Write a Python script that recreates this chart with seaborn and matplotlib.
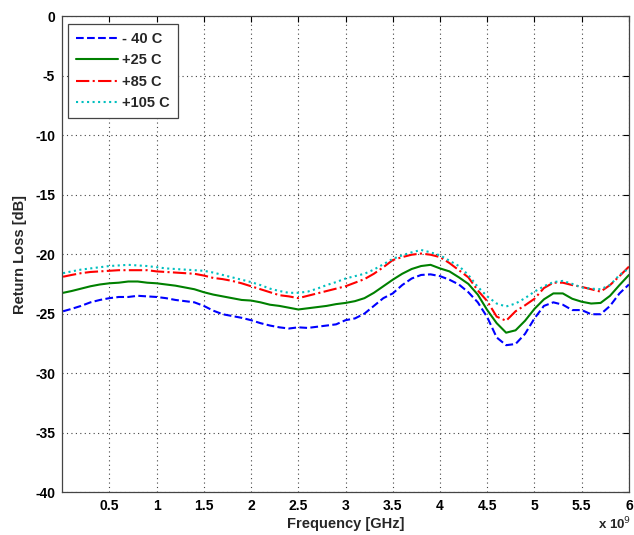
import numpy as np
import pandas as pd
import seaborn as sns
import matplotlib
matplotlib.use("Agg")
import matplotlib.pyplot as plt

# frequency samples in GHz
freq = np.round(np.arange(0.0, 6.01, 0.1), 1)
freq[0] = 0.01

minus40 = [-24.8, -24.6, -24.35, -24.05, -23.85, -23.7, -23.6, -23.6, -23.5, -23.55,
           -23.6, -23.7, -23.85, -23.95, -24.05, -24.35, -24.75, -25.05, -25.2, -25.35,
           -25.55, -25.8, -26.0, -26.15, -26.25, -26.15, -26.2, -26.1, -26.0, -25.9,
           -25.55, -25.4, -25.0, -24.35, -23.7, -23.3, -22.6, -22.05, -21.75, -21.7,
           -21.85, -22.15, -22.55, -23.2, -24.05, -25.3, -27.0, -27.65, -27.55, -26.7,
           -25.4, -24.35, -24.05, -24.25, -24.7, -24.7, -25.05, -25.05, -24.35, -23.3,
           -22.55]
plus25 = [-23.25, -23.1, -22.9, -22.7, -22.55, -22.45, -22.4, -22.3, -22.3, -22.4,
          -22.45, -22.55, -22.65, -22.8, -22.95, -23.2, -23.4, -23.55, -23.7, -23.85,
          -23.9, -24.05, -24.25, -24.35, -24.5, -24.65, -24.55, -24.45, -24.35, -24.2,
          -24.1, -23.95, -23.7, -23.25, -22.7, -22.15, -21.65, -21.25, -21.0, -20.9,
          -21.2, -21.45, -21.95, -22.5, -23.4, -24.7, -25.8, -26.6, -26.4, -25.6,
          -24.6, -23.8, -23.3, -23.3, -23.75, -24.0, -24.15, -24.1, -23.5, -22.6,
          -21.75]
plus85 = [-21.9, -21.75, -21.6, -21.5, -21.45, -21.4, -21.35, -21.35, -21.35, -21.35,
          -21.45, -21.5, -21.55, -21.6, -21.65, -21.8, -22.0, -22.1, -22.25, -22.45,
          -22.7, -22.95, -23.2, -23.45, -23.55, -23.7, -23.5, -23.3, -23.1, -22.9,
          -22.7, -22.4, -22.1, -21.65, -21.1, -20.5, -20.25, -20.05, -19.95, -20.05,
          -20.25, -20.75, -21.35, -21.95, -23.05, -23.95, -25.25, -25.6, -24.8, -24.3,
          -23.75, -22.85, -22.4, -22.4, -22.6, -22.75, -22.95, -23.15, -22.6, -21.85,
          -21.05]
plus105 = [-21.6, -21.45, -21.3, -21.2, -21.1, -21.0, -20.95, -20.9, -20.95, -21.0,
           -21.1, -21.2, -21.25, -21.3, -21.35, -21.4, -21.55, -21.75, -21.95, -22.15,
           -22.35, -22.6, -22.9, -23.1, -23.25, -23.25, -23.15, -22.9, -22.6, -22.35,
           -22.05, -21.85, -21.65, -21.3, -20.85, -20.4, -20.1, -19.85, -19.65, -19.85,
           -20.1, -20.55, -21.0, -21.75, -22.75, -23.55, -24.15, -24.4, -24.15, -23.7,
           -23.15, -22.7, -22.35, -22.25, -22.5, -22.8, -22.9, -22.95, -22.6, -21.75,
           -21.2]

labels = ["- 40 C", "+25 C", "+85 C", "+105 C"]
colors = ["#0000ff", "#008000", "#ff0000", "#00bfbf"]
styles = ["--", "-", "-.", ":"]

x_ticks = [0.5, 1, 1.5, 2, 2.5, 3, 3.5, 4, 4.5, 5, 5.5, 6]
x_tick_labels = ["0.5", "1", "1.5", "2", "2.5", "3", "3.5", "4", "4.5", "5", "5.5", "6"]
y_ticks = [0, -5, -10, -15, -20, -25, -30, -35, -40]

sns.set_style("white")
plt.rcParams["font.family"] = ["Liberation Sans", "DejaVu Sans"]
plt.rcParams["axes.unicode_minus"] = False

fig = plt.figure(figsize=(6.34, 5.35), dpi=100)
ax = fig.add_axes([0.098, 0.080, 0.894, 0.890])

for vals, lbl, c, ls in zip([minus40, plus25, plus85, plus105], labels, colors, styles):
    sns.lineplot(x=freq, y=vals, ax=ax, color=c, linestyle=ls, lw=1.5, label=lbl)

ax.set_xlim(0.0, 6.0)
ax.set_ylim(-40, 0)
ax.set_xticks(x_ticks)
ax.set_xticklabels(x_tick_labels)
ax.set_yticks(y_ticks)
ax.set_yticklabels([str(t) for t in y_ticks])
ax.tick_params(direction="in", top=True, right=True, length=4, width=0.8,
               labelsize=10, colors="black", pad=5)
for lab in ax.get_xticklabels() + ax.get_yticklabels():
    lab.set_fontweight("bold")
for sp in ax.spines.values():
    sp.set_color("#444444")
    sp.set_linewidth(0.9)

ax.grid(True, linestyle=(0, (1, 3)), color="#444444", linewidth=0.8)

ax.set_xlabel("Frequency [GHz]", fontsize=10.5, fontweight="bold", labelpad=3)
ax.set_ylabel("Return Loss [dB]", fontsize=10.5, fontweight="bold", labelpad=6)
fig.text(0.943, 0.010, "x 10$^9$", fontsize=9.5, fontweight="bold", ha="left")

leg = ax.legend(loc="upper left", bbox_to_anchor=(0.010, 0.983), fontsize=10.5,
                frameon=True, fancybox=False, framealpha=1, edgecolor="#444444",
                handlelength=2.9, handletextpad=0.3, borderpad=0.55, labelspacing=0.5,
                borderaxespad=0.0)
leg.get_frame().set_linewidth(0.9)
for t in leg.get_texts():
    t.set_fontweight("bold")

fig.savefig("out.png", dpi=100)
